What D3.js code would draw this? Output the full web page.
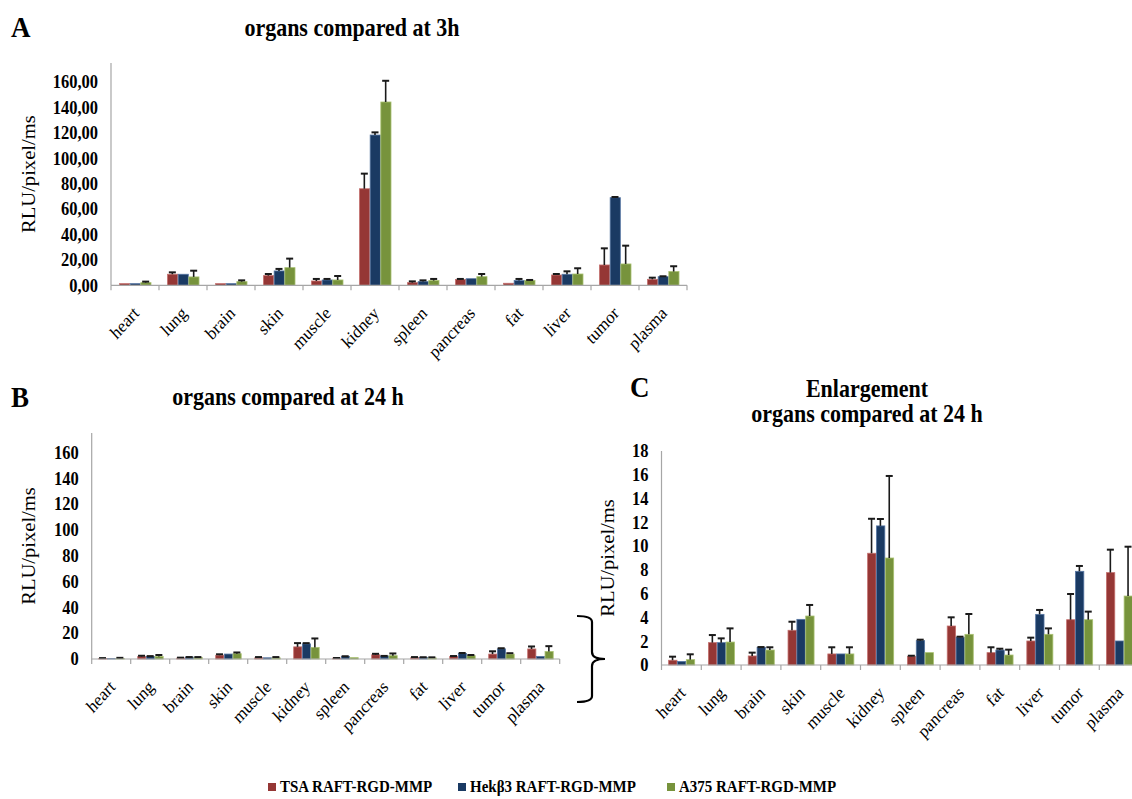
<!DOCTYPE html>
<html>
<head>
<meta charset="utf-8">
<script src="https://cdn.jsdelivr.net/npm/d3@7"></script>
<style>
  html, body { margin: 0; padding: 0; background: #fff; }
  svg { display: block; font-family: "Liberation Serif", "Times New Roman", Times, serif; }
</style>
</head>
<body>
<svg id="fig" width="1132" height="799"></svg>
<script>
// Organs measured
const organs = ["heart", "lung", "brain", "skin", "muscle", "kidney", "spleen",
                "pancreas", "fat", "liver", "tumor", "plasma"];
// Cell lines (legend)
const seriesNames = ["TSA RAFT-RGD-MMP", "Hekβ3 RAFT-RGD-MMP", "A375 RAFT-RGD-MMP"];

// Luminescence at 3 h (RLU/pixel/ms), means and +SD
const tsa3h     = [1.3, 8.7, 1.3, 7.6, 3.4, 76.0, 2.1, 4.5, 1.6, 8.1, 16.0, 4.7];
const tsa3hSd   = [0, 1.5, 0, 1.3, 1.6, 11.9, 1.0, 0.5, 0, 0.8, 13.1, 1.3];
const hek3h     = [1.3, 8.7, 1.3, 11.3, 4.2, 118.3, 2.9, 5.2, 3.7, 8.7, 69.0, 6.8];
const hek3hSd   = [0, 0, 0, 1.6, 0.8, 2.1, 1.0, 0, 1.3, 2.3, 0.5, 0.3];
const a3753h    = [2.1, 6.6, 2.9, 13.9, 4.2, 144.3, 3.7, 6.8, 3.7, 8.9, 16.8, 10.8];
const a3753hSd  = [0.8, 4.9, 1.0, 7.1, 3.1, 16.7, 1.3, 2.1, 0.5, 4.5, 14.4, 4.2];

// Luminescence at 24 h (RLU/pixel/ms), means and +SD
const tsa24h    = [0.40, 1.88, 0.76, 2.92, 0.93, 9.40, 0.73, 3.28, 1.04, 2.02, 3.81, 7.77];
const tsa24hSd  = [0.30, 0.64, 0.28, 0.72, 0.56, 2.90, 0.05, 0.73, 0.45, 0.28, 2.16, 1.93];
const hek24h    = [0.30, 1.88, 1.49, 3.84, 0.93, 11.70, 2.05, 2.33, 1.26, 4.26, 7.88, 2.02];
const hek24hSd  = [0, 0.36, 0.02, 0, 0, 0.58, 0.08, 0.05, 0.11, 0.37, 0.45, 0];
const a37524h   = [0.45, 1.93, 1.26, 4.12, 0.93, 9.00, 1.04, 2.58, 0.84, 2.58, 3.81, 5.80];
const a37524hSd = [0.45, 1.15, 0.23, 0.93, 0.56, 6.90, 0, 1.71, 0.45, 0.50, 0.68, 4.15];

// Axis tick values and labels
const ticksWide      = [0, 20, 40, 60, 80, 100, 120, 140, 160];
const tickLabels3h   = ["0,00", "20,00", "40,00", "60,00", "80,00", "100,00", "120,00", "140,00", "160,00"];
const tickLabels24h  = ["0", "20", "40", "60", "80", "100", "120", "140", "160"];
const ticksZoom      = [0, 2, 4, 6, 8, 10, 12, 14, 16, 18];
const tickLabelsZoom = ["0", "2", "4", "6", "8", "10", "12", "14", "16", "18"];

const fills  = ["#953735", "#1a3a63", "#77933c"];
const edges  = ["#c4706e", "#5676a3", "#a9c171"];
const axisColor = "#a6a6a6";
const tall = 1.1; // glyphs are set slightly taller than wide

const svg = d3.select("#fig");

// place a text at (x, y), stretched vertically, with an optional rotation
function placeText(sel, x, y, rot) {
  return sel.attr("transform", `translate(${x},${y}) scale(1,${tall})` + (rot ? ` rotate(${rot})` : ""));
}

function buildRows(means, sds) {
  return organs.map((o, i) => ({
    organ: o,
    values: means.map((m, s) => ({ s, v: m[i], sd: sds[s][i] }))
  }));
}

function drawPanel(p) {
  const g = svg.append("g");
  const x = d3.scaleBand().domain(organs).range([p.left, p.left + p.catW * organs.length])
              .paddingInner(0).paddingOuter(0);
  const y = d3.scaleLinear().domain(p.domain).range([p.bottom, p.top]);
  const inner = d3.scaleBand().domain([0, 1, 2]).range([0, x.bandwidth()])
                  .paddingInner(0).paddingOuter(0.75);

  // y axis (line only, bold labels)
  const yAxis = d3.axisLeft(y).tickValues(p.ticks)
    .tickFormat((d, i) => p.tickLabels[i]).tickSize(0).tickPadding(13);
  const ya = g.append("g").attr("transform", `translate(${p.left},0)`).call(yAxis);
  ya.select(".domain").remove();
  ya.selectAll("text").attr("font-size", 16.5).attr("font-weight", "bold")
    .attr("fill", "#000").attr("font-family", "Liberation Serif, Times New Roman, serif")
    .attr("transform", `scale(1,${tall})`);
  g.append("line").attr("x1", p.left).attr("x2", p.left)
    .attr("y1", y(p.domain[1])).attr("y2", p.bottom)
    .attr("stroke", axisColor).attr("stroke-width", 1.2);

  // bars
  const rows = buildRows(p.means, p.sds);
  const grp = g.selectAll(".grp").data(rows).join("g")
    .attr("transform", d => `translate(${x(d.organ)},0)`);
  grp.selectAll("rect").data(d => d.values).join("rect")
    .attr("x", d => inner(d.s) + 0.5)
    .attr("width", inner.bandwidth() - 0.5)
    .attr("y", d => y(d.v))
    .attr("height", d => Math.max(0, y(0) - y(d.v)))
    .attr("fill", d => fills[d.s])
    .attr("stroke", d => edges[d.s]).attr("stroke-width", 0.8);

  // positive error bars
  const eb = grp.selectAll(".eb").data(d => d.values.filter(v => v.sd > 0)).join("g");
  eb.append("line")
    .attr("x1", d => inner(d.s) + inner.bandwidth() / 2)
    .attr("x2", d => inner(d.s) + inner.bandwidth() / 2)
    .attr("y1", d => y(d.v)).attr("y2", d => y(d.v + d.sd))
    .attr("stroke", "#1a1a1a").attr("stroke-width", 1.6);
  eb.append("line")
    .attr("x1", d => inner(d.s) + inner.bandwidth() / 2 - 3.5)
    .attr("x2", d => inner(d.s) + inner.bandwidth() / 2 + 3.5)
    .attr("y1", d => y(d.v + d.sd)).attr("y2", d => y(d.v + d.sd))
    .attr("stroke", "#1a1a1a").attr("stroke-width", 2);

  // x axis with boundary tick marks
  const right = p.left + p.catW * organs.length;
  g.append("line").attr("x1", p.left).attr("x2", right)
    .attr("y1", y(0)).attr("y2", y(0)).attr("stroke", axisColor).attr("stroke-width", 1.2);
  g.selectAll(".xt").data(d3.range(organs.length + 1)).join("line")
    .attr("x1", i => p.left + i * p.catW).attr("x2", i => p.left + i * p.catW)
    .attr("y1", y(0)).attr("y2", y(0) + 5)
    .attr("stroke", axisColor).attr("stroke-width", 1.2);

  // rotated category labels
  g.selectAll(".xl").data(organs).join("text")
    .each(function (d) {
      placeText(d3.select(this), x(d) + x.bandwidth() / 2 + 5, y(0) + 29, -45);
    })
    .attr("text-anchor", "end").attr("font-size", 16.5).attr("fill", "#000")
    .text(d => d);

  // y axis title
  g.append("text")
    .call(placeText, p.yTitleX, (y(p.domain[1]) + p.bottom) / 2, -90)
    .attr("text-anchor", "middle").attr("font-size", 18.7).attr("fill", "#000")
    .text("RLU/pixel/ms");

  // panel title lines and letter
  p.title.forEach((t, i) => {
    g.append("text").call(placeText, p.titleX, p.titleY + i * 25)
      .attr("text-anchor", "middle").attr("font-size", 22).attr("font-weight", "bold")
      .attr("fill", "#000").text(t);
  });
  g.append("text").call(placeText, p.letterX, p.letterY)
    .attr("font-size", 27).attr("font-weight", "bold").attr("fill", "#000").text(p.letter);
  return y;
}

drawPanel({
  left: 111, catW: 48, bottom: 285.3, top: 63, domain: [0, 175],
  ticks: ticksWide, tickLabels: tickLabels3h,
  means: [tsa3h, hek3h, a3753h], sds: [tsa3hSd, hek3hSd, a3753hSd],
  yTitleX: 35, title: ["organs compared at 3h"], titleX: 352, titleY: 36,
  letter: "A", letterX: 11, letterY: 37
});

const yB = drawPanel({
  left: 91.7, catW: 39, bottom: 659, top: 433, domain: [0, 175],
  ticks: ticksWide, tickLabels: tickLabels24h,
  means: [tsa24h, hek24h, a37524h], sds: [tsa24hSd, hek24hSd, a37524hSd],
  yTitleX: 35, title: ["organs compared at 24 h"], titleX: 288, titleY: 405,
  letter: "B", letterX: 11, letterY: 407
});

drawPanel({
  left: 661.5, catW: 39.8, bottom: 665, top: 451, domain: [0, 18],
  ticks: ticksZoom, tickLabels: tickLabelsZoom,
  means: [tsa24h, hek24h, a37524h], sds: [tsa24hSd, hek24hSd, a37524hSd],
  yTitleX: 614, title: ["Enlargement", "organs compared at 24 h"], titleX: 867, titleY: 397,
  letter: "C", letterX: 630, letterY: 397
});

// curly brace linking panel B's baseline to the enlargement
const bz = yB(0);
const brace = d3.path();
brace.moveTo(577, bz - 43);
brace.quadraticCurveTo(592, bz - 43, 592, bz - 37);
brace.lineTo(592, bz - 7);
brace.quadraticCurveTo(592, bz, 605, bz);
brace.quadraticCurveTo(592, bz, 592, bz + 7);
brace.lineTo(592, bz + 37);
brace.quadraticCurveTo(592, bz + 43, 577, bz + 43);
svg.append("path").attr("d", brace.toString()).attr("fill", "none")
  .attr("stroke", "#000").attr("stroke-width", 2.2);

// legend
const legendX = [268, 458, 667];
const lg = svg.append("g").selectAll("g").data(seriesNames).join("g")
  .attr("transform", (d, i) => `translate(${legendX[i]},0)`);
lg.append("rect").attr("x", 0).attr("y", 783).attr("width", 8).attr("height", 8)
  .attr("fill", (d, i) => fills[i]);
lg.append("text").call(placeText, 12, 792)
  .attr("font-size", 15).attr("font-weight", "bold").attr("fill", "#000").text(d => d);
</script>
</body>
</html>
